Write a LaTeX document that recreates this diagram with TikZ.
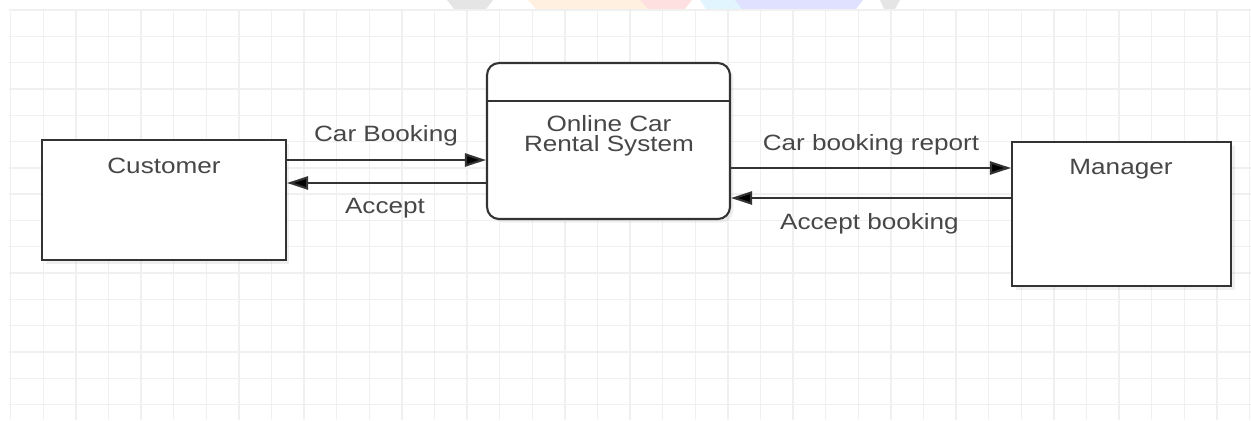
\documentclass[tikz,border=0pt]{standalone}
\usepackage{fontspec}
\setmainfont[FakeStretch=1.18]{Liberation Sans}
\usepackage{xcolor}
\usetikzlibrary{arrows.meta}
\usetikzlibrary{positioning}
\usetikzlibrary{shadows}

\definecolor{gridgray}{HTML}{F0F0F0}
\definecolor{linegray}{HTML}{333333}
\definecolor{textgray}{HTML}{474747}

\begin{document}
\begin{tikzpicture}[x=0.02cm,y=-0.02cm]
	
	\tikzstyle{entity} = [rectangle,draw=linegray,line width=1.2pt,fill=white,inner sep=0pt,drop shadow={opacity=0.12,shadow xshift=2pt,shadow yshift=-2pt}]
	\tikzstyle{process} = [entity,rounded corners=0.24cm]
	\tikzstyle{lbl} = [inner sep=0pt,text=textgray,font=\fontsize{12.6}{11.6}\selectfont]
	\tikzstyle{flow} = [-{Triangle[length=12pt,width=7.5pt,fill=black]},line width=1.2pt,draw=linegray]
	
	\useasboundingbox[fill=white] (0,0) rectangle (1251,420);
	
	% watermark remains along the top edge
	\fill[gray!20] (447,0) -- (493,0) -- (486,9) -- (454,9) -- cycle;
	\fill[orange!12] (528,0) -- (660,0) -- (648,9) -- (536,9) -- cycle;
	\fill[red!12] (640,0) -- (692,0) -- (685,9) -- (648,9) -- cycle;
	\fill[cyan!12] (700,0) -- (770,0) -- (760,9) -- (706,9) -- cycle;
	\fill[blue!12] (735,0) -- (863,0) -- (856,9) -- (742,9) -- cycle;
	\fill[gray!20] (880,0) -- (900,0) -- (895,9) -- (884,9) -- cycle;
	
	% background grid
	\foreach \i in {0,...,38}
		\draw[gridgray,line width=0.8pt] (10.7+32.6*\i,10) -- (10.7+32.6*\i,420);
	\foreach \j in {0,...,15}
		\draw[gridgray,line width=0.8pt] (9,10+26.3*\j) -- (1251,10+26.3*\j);
	
	\node[entity,minimum width=4.88cm,minimum height=2.4cm] (cust) at (164,200) {};
	\node[process,minimum width=4.86cm,minimum height=3.12cm] (proc) at (608.5,141) {};
	\node[entity,minimum width=4.38cm,minimum height=2.88cm] (mgr) at (1121.5,214) {};
	\draw[linegray,line width=1.2pt] ([yshift=0.8cm]proc.west) -- ([yshift=0.8cm]proc.east);
	
	\node[lbl,anchor=base] (custtext) at (164,173) {Customer};
	\node[lbl,align=center] (proctext) at (609,136) {Online Car\\Rental System};
	\node[lbl,anchor=base] (mgrtext) at (1121,174) {Manager};
	
	\node[lbl,anchor=base] (booking) at (386,141.5) {Car Booking};
	\node[lbl,anchor=base] (accept) at (385,213) {Accept};
	\node[lbl,anchor=base] (report) at (871,150.7) {Car booking report};
	\node[lbl,anchor=base] (acceptbk) at (869.5,229) {Accept booking};
	
	\draw[flow] ([yshift=0.8cm]cust.east) -- ([yshift=0.8cm]cust.east -| proc.west);
	\draw[flow] ([yshift=-0.84cm]proc.west) -- ([yshift=-0.84cm]proc.west -| cust.east);
	\draw[flow] ([yshift=-0.54cm]proc.east) -- ([yshift=-0.54cm]proc.east -| mgr.west);
	\draw[flow] ([yshift=0.32cm]mgr.west) -- ([yshift=0.32cm]mgr.west -| proc.east);

\end{tikzpicture}
\end{document}
